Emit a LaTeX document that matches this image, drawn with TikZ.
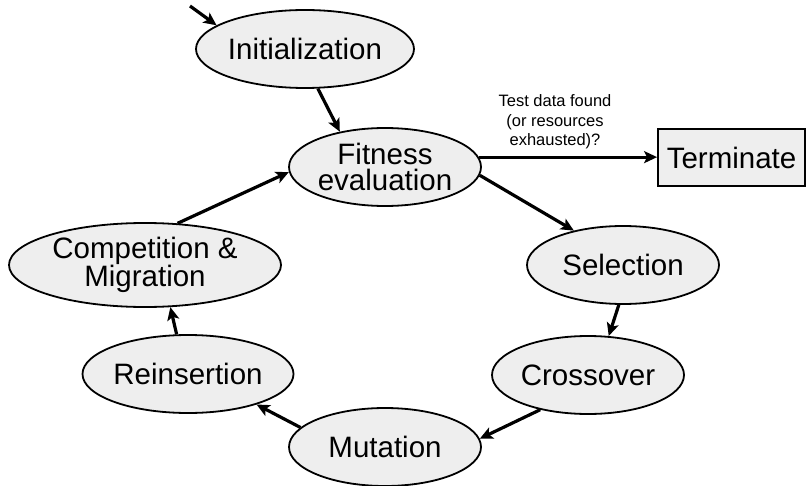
\documentclass[tikz,border=0pt]{standalone}
\usepackage{fontspec}
\setmainfont{Liberation Sans}
\usetikzlibrary{shapes.geometric,arrows.meta}
\definecolor{nodefill}{HTML}{EEEEEE}
\tikzset{
  stage/.style={ellipse, draw=black, line width=1.8pt, fill=nodefill, inner sep=0pt,
    minimum width=192pt, minimum height=78pt, align=center,
    font=\fontsize{29.5}{26}\selectfont},
  endbox/.style={rectangle, draw=black, line width=1.8pt, fill=nodefill, inner sep=0pt,
    minimum width=147pt, minimum height=57pt, font=\fontsize{29.5}{26}\selectfont},
  flow/.style={line width=3.2pt, -{Stealth[length=13pt,width=12pt,inset=3pt]}},
  note/.style={align=center, font=\fontsize{16.5}{19.5}\selectfont, inner sep=0pt}
}
\begin{document}
\begin{tikzpicture}[x=1pt,y=-1pt]
\useasboundingbox (0,0) rectangle (810,486);
\node[stage] (init) at (305,49) {Initialization};
\node[stage] (fit) at (385,167) {Fitness\\evaluation};
\node[endbox] (term) at (731.5,157.5) {Terminate};
\node[stage] (sel) at (623,265) {Selection};
\node[stage] (cross) at (588,375) {Crossover};
\node[stage] (mut) at (385,447) {Mutation};
\node[stage] (reins) at (188,374) {Reinsertion};
\node[stage, minimum width=272pt, minimum height=84pt] (comp) at (145,265) {Competition \&\\Migration};
\node[note] (lbl) at (555,122) {Test data found\\(or resources\\exhausted)?};
\coordinate (start) at (190,6);

\draw[flow] (start) -- (init.165.6);
\draw[flow] (init.-72) -- (fit.142);
\draw[flow] (fit.6) -- (fit.6 -| term.west);
\draw[flow] (fit.-5) -- (sel.145);
\draw[flow] (sel.-96) -- (cross.62);
\draw[flow] (cross.-144) -- (mut.5.6);
\draw[flow] (mut.167) -- (reins.-24);
\draw[flow] (reins.106) -- (comp.-59);
\draw[flow] (comp.52.5) -- (fit.183);
\end{tikzpicture}
\end{document}
